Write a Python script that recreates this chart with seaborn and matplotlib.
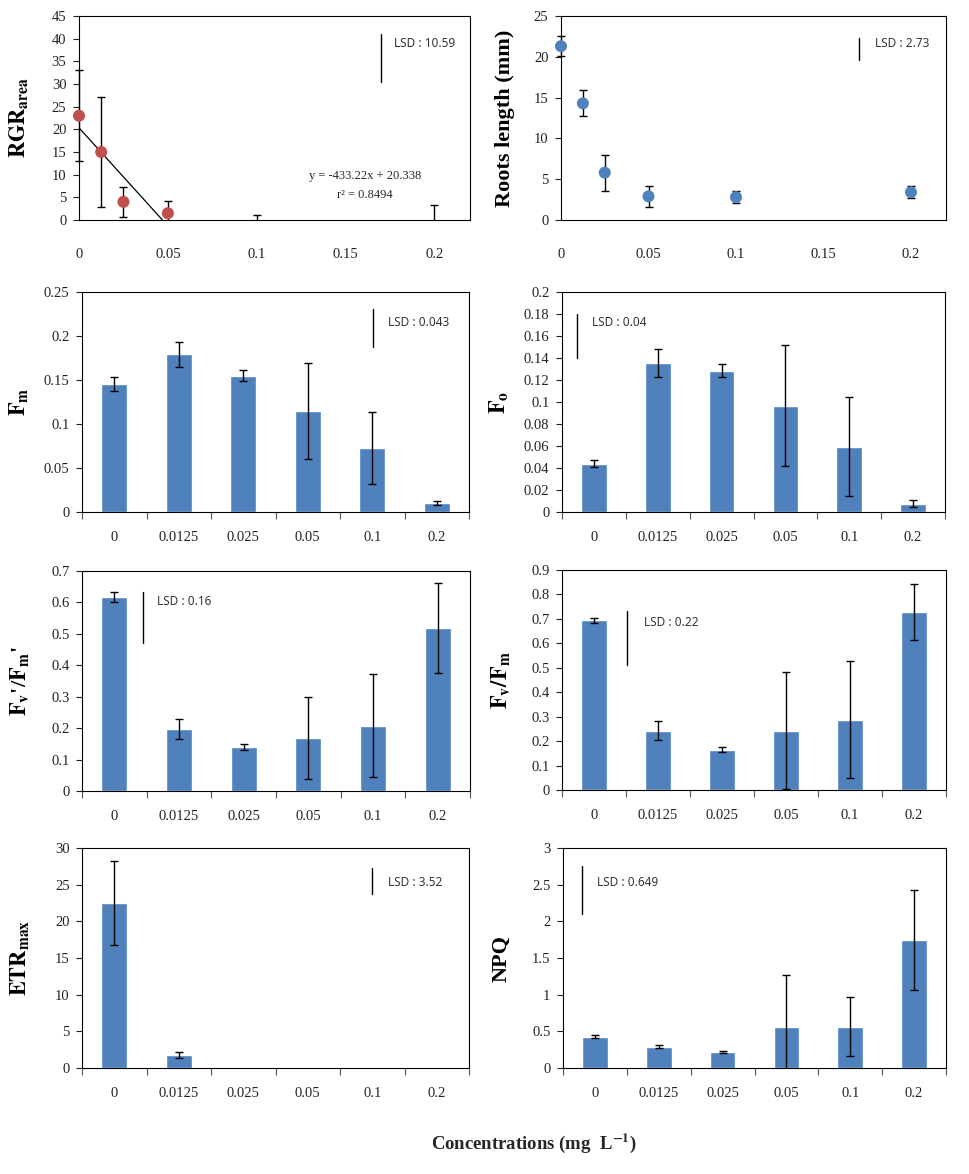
import numpy as np
import pandas as pd
import matplotlib
matplotlib.use("Agg")
import matplotlib.pyplot as plt
import seaborn as sns
from matplotlib.patches import Rectangle
from matplotlib.ticker import FuncFormatter

# concentrations (mg L-1)
conc_values = [0, 0.0125, 0.025, 0.05, 0.1, 0.2]
conc_labels = ["0", "0.0125", "0.025", "0.05", "0.1", "0.2"]

# RGR area (last two fall below the axis, only their error bars show)
rgr_mean = [23.0, 15.0, 4.0, 1.5, -2.0, -3.0]
rgr_err = [10.0, 12.1, 3.3, 2.7, 3.1, 6.3]
rgr_slope, rgr_intercept, rgr_r2 = -433.22, 20.338, 0.8494

roots_mean = [21.3, 14.3, 5.8, 2.9, 2.8, 3.4]
roots_err = [1.2, 1.6, 2.2, 1.3, 0.75, 0.75]

fm_mean = [0.145, 0.179, 0.155, 0.115, 0.073, 0.0105]
fm_err = [0.008, 0.014, 0.006, 0.0545, 0.041, 0.0025]

fo_mean = [0.044, 0.1355, 0.1285, 0.0967, 0.0594, 0.0076]
fo_err = [0.0034, 0.013, 0.006, 0.055, 0.0447, 0.003]

fvfm_prime_mean = [0.617, 0.197, 0.1407, 0.1686, 0.2078, 0.5197]
fvfm_prime_err = [0.016, 0.032, 0.009, 0.132, 0.163, 0.143]

fvfm_mean = [0.694, 0.243, 0.165, 0.243, 0.288, 0.727]
fvfm_err = [0.0115, 0.038, 0.01, 0.239, 0.2385, 0.114]

etr_mean = [22.5, 1.8, 0, 0, 0, 0]
etr_err = [5.75, 0.37, 0, 0, 0, 0]

npq_mean = [0.429, 0.292, 0.219, 0.565, 0.565, 1.746]
npq_err = [0.026, 0.018, 0.009, 0.71, 0.40, 0.68]

lsd_rgr, lsd_roots, lsd_fm, lsd_fo = 10.59, 2.73, 0.043, 0.04
lsd_fvfm_prime, lsd_fvfm, lsd_etr, lsd_npq = 0.16, 0.22, 3.52, 0.649

sns.set_theme(style="white")
plt.rcParams["font.family"] = ["Liberation Serif", "DejaVu Serif"]
plt.rcParams["mathtext.fontset"] = "stix"

BLUE = "#4F81BD"
RED = "#C0504D"
W, H = 970, 1174

fig = plt.figure(figsize=(9.7, 11.74), dpi=100)


def make_axes(left, top, right, bottom):
    return fig.add_axes([left / W, 1 - bottom / H, (right - left) / W, (bottom - top) / H])


def style_axes(ax, ymax, ystep, ylabel, label_right):
    ax.set_ylim(0, ymax)
    ax.set_yticks(np.arange(0, ymax + ystep / 2, ystep))
    ax.yaxis.set_major_formatter(FuncFormatter(lambda v, p: f"{v:g}"))
    ax.tick_params(axis="y", direction="out", length=4, width=0.8, pad=5,
                   labelsize=10.5, left=True, colors="#222222")
    ax.tick_params(axis="x", labelsize=10.5, colors="#222222")
    for s in ax.spines.values():
        s.set_visible(True)
        s.set_color("black")
        s.set_linewidth(0.8)
    ax.set_ylabel(ylabel, fontsize=16, fontweight="bold", color="black")
    pos = ax.get_position()
    ax.yaxis.set_label_coords((label_right / W - pos.x0) / pos.width, 0.5)
    ax.set_xlabel("")


def clip_above_zero(ax, artists):
    rect = Rectangle((-0.05, 0), 1.1, 1.0, transform=ax.transAxes)
    for a in artists:
        a.set_clip_path(rect)


def draw_errors(ax, x, means, errs):
    errs = np.asarray(errs, dtype=float)
    keep = errs > 0
    eb = ax.errorbar(np.asarray(x)[keep], np.asarray(means)[keep], yerr=errs[keep],
                     fmt="none", ecolor="black", elinewidth=1, capsize=3,
                     capthick=1, zorder=3)
    clip_above_zero(ax, list(eb.lines[1]) + list(eb.lines[2]))


def draw_lsd(ax, lsd, x, top, tx, ty):
    ax.plot([x, x], [top - lsd, top], color="black", lw=1)
    ax.text(tx, ty, f"LSD : {lsd}", fontsize=8.5, family="Noto Sans",
            color="#333333", va="center", ha="left")


def scatter_panel(ax, means, errs, color):
    df = pd.DataFrame({"conc": conc_values, "mean": means, "err": errs})
    draw_errors(ax, df["conc"], df["mean"], df["err"])
    sns.scatterplot(data=df, x="conc", y="mean", color=color, s=75,
                    edgecolor="none", ax=ax, zorder=4, legend=False)
    clip_above_zero(ax, ax.collections)
    ax.set_xlim(0, 0.22)
    ax.set_xticks(np.arange(0, 0.201, 0.05))
    ax.xaxis.set_major_formatter(FuncFormatter(lambda v, p: f"{v:g}"))
    ax.tick_params(axis="x", length=0, pad=20)


def bar_panel(ax, means, errs):
    df = pd.DataFrame({"conc": conc_labels, "mean": means, "err": errs})
    sns.barplot(data=df, x="conc", y="mean", order=conc_labels, color=BLUE,
                saturation=1, width=0.4, errorbar=None, ax=ax, zorder=2)
    draw_errors(ax, np.arange(len(df)), df["mean"], df["err"])
    ax.set_xlim(-0.5, len(df) - 0.5)
    ax.set_xticks(np.arange(-0.5, len(df), 1), minor=True)
    ax.tick_params(axis="x", which="major", length=0, pad=14)
    ax.tick_params(axis="x", which="minor", length=5, width=0.8,
                   direction="out", bottom=True, color="#555555")


# row 1: scatter panels
ax = make_axes(79, 16, 470, 220)
scatter_panel(ax, rgr_mean, rgr_err, RED)
x_end = -rgr_intercept / rgr_slope
fit_x = np.array([0, x_end])
sns.lineplot(x=fit_x, y=rgr_slope * fit_x + rgr_intercept, color="black",
             lw=0.9, ax=ax, zorder=3)
ax.text(0.161, 9.6, f"y = {rgr_slope}x + {rgr_intercept}", fontsize=9,
        ha="center", va="center")
ax.text(0.161, 5.6, f"r\u00b2 = {rgr_r2}", fontsize=9, ha="center", va="center")
draw_lsd(ax, lsd_rgr, 0.17, 41.0, 0.1773, 39.0)
style_axes(ax, 45, 5, r"$\mathbf{RGR_{area}}$", 31)

ax = make_axes(561, 16, 946, 220)
scatter_panel(ax, roots_mean, roots_err, BLUE)
draw_lsd(ax, lsd_roots, 0.17, 22.3, 0.1794, 21.6)
style_axes(ax, 25, 5, "Roots length (mm)", 515)

# row 2
ax = make_axes(82, 292, 469, 512)
bar_panel(ax, fm_mean, fm_err)
draw_lsd(ax, lsd_fm, 4.01, 0.2307, 4.24, 0.2155)
style_axes(ax, 0.25, 0.05, r"$\mathbf{F_m}$", 31)

ax = make_axes(562, 292, 945, 512)
bar_panel(ax, fo_mean, fo_err)
draw_lsd(ax, lsd_fo, -0.265, 0.1803, -0.03, 0.1724)
style_axes(ax, 0.2, 0.02, r"$\mathbf{F_o}$", 511)

# row 3
ax = make_axes(82, 571, 470, 791)
bar_panel(ax, fvfm_prime_mean, fvfm_prime_err)
draw_lsd(ax, lsd_fvfm_prime, 0.44, 0.6325, 0.66, 0.6035)
style_axes(ax, 0.7, 0.1, r"$\mathbf{F_v}$'/$\mathbf{F_m}$'", 32)

ax = make_axes(562, 570, 946, 790)
bar_panel(ax, fvfm_mean, fvfm_err)
draw_lsd(ax, lsd_fvfm, 0.51, 0.732, 0.78, 0.684)
style_axes(ax, 0.9, 0.1, r"$\mathbf{F_v/F_m}$", 513)

# row 4
ax = make_axes(82, 848, 469, 1068)
bar_panel(ax, etr_mean, etr_err)
draw_lsd(ax, lsd_etr, 4.0, 27.26, 4.24, 25.3)
style_axes(ax, 30, 5, r"$\mathbf{ETR_{max}}$", 32)

ax = make_axes(563, 848, 946, 1068)
bar_panel(ax, npq_mean, npq_err)
draw_lsd(ax, lsd_npq, -0.2, 2.75, 0.03, 2.53)
style_axes(ax, 3, 0.5, "NPQ", 512)

fig.text(534 / W, 1 - 1143 / H, r"Concentrations (mg  L$^{\mathbf{-1}}$)",
         fontsize=13.5, fontweight="bold", ha="center", va="center")

fig.savefig("out.png", dpi=100, facecolor="white")
